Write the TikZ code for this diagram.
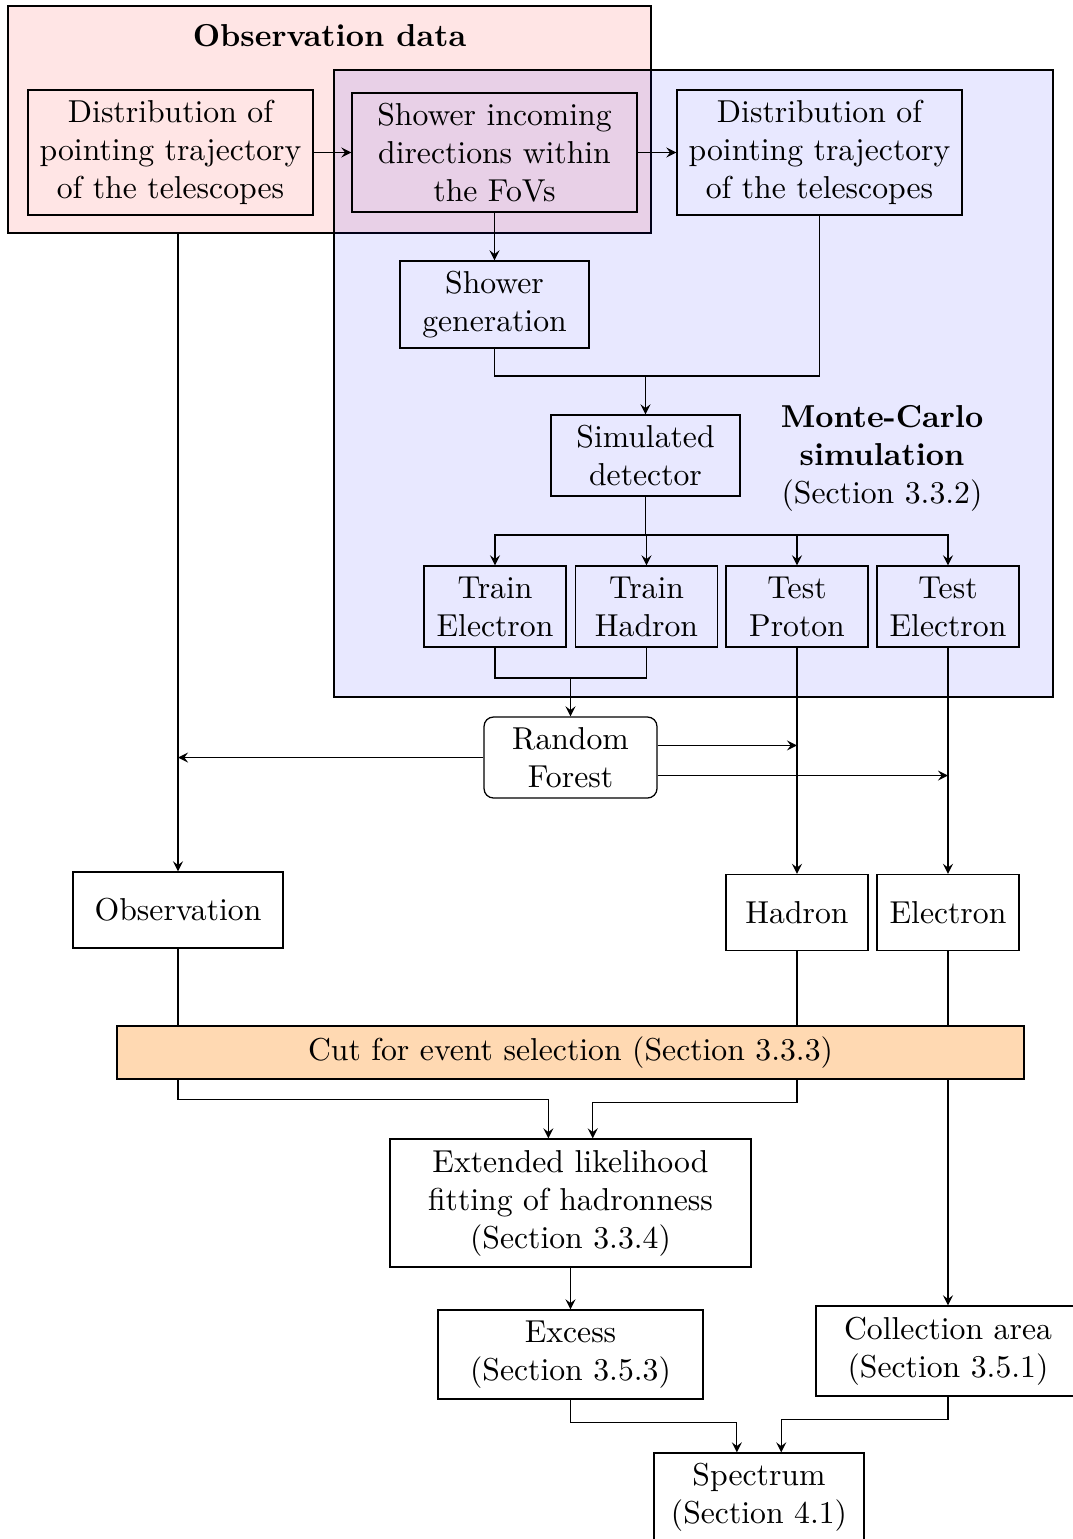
\documentclass[tikz,border=0pt]{standalone}
\usetikzlibrary{calc}

\begin{document}
\begin{tikzpicture}[>=stealth, x=0.3155pt, y=-0.3155pt]

% ------------------------------------------------------------------
% === UNITS AND STYLES =============================================
\def\u{0.3155pt}   % one grid step, all positions below are in steps

\tikzset{
  box/.style 2 args={draw, align=center, inner sep=0pt,
                     minimum width=#1*\u, minimum height=#2*\u},
  group/.style={draw, inner sep=0pt},
  title/.style={align=center, font=\bfseries},
}
% ==================================================================

\useasboundingbox (0,0) rectangle (1072,1539);

% --- the two shaded groups ----------------------------------------
\node[group, fill=red!10, minimum width=643*\u, minimum height=227*\u]
     (obsdata) at (329.5,119.5) {};
\node[title] (obstitle) at (329.5,36) {Observation data};

\node[group, fill=blue, fill opacity=0.09, draw opacity=1,
      minimum width=719*\u, minimum height=627*\u]
     (mcgroup) at (693.5,383.5) {};
\node[align=center] (mctitle) at (882,458)
     {\textbf{Monte-Carlo}\\\textbf{simulation}\\(Section 3.3.2)};

% === top row ======================================================
\node[box={285}{125}] (pointobs) at (170.5,152.5)
     {Distribution of\\pointing trajectory\\of the telescopes};
\node[box={285}{119}] (incoming) at (494.5,152.5)
     {Shower incoming\\directions within\\the FoVs};
\node[box={285}{125}] (pointmc)  at (819.5,152.5)
     {Distribution of\\pointing trajectory\\of the telescopes};

% === simulation chain =============================================
\node[box={189}{87}] (showergen) at (494.5,304.5) {Shower\\generation};
\node[box={189}{81}] (detector)  at (645.5,455.5) {Simulated\\detector};

\node[box={142}{81}] (trainel)  at (495,606.5)   {Train\\Electron};
\node[box={142}{81}] (trainhad) at (646.5,606.5) {Train\\Hadron};
\node[box={142}{81}] (testpro)  at (797,606.5)   {Test\\Proton};
\node[box={142}{81}] (testel)   at (948,606.5)   {Test\\Electron};

\node[box={173}{81}, rounded corners=3pt] (forest) at (570.5,757.5)
     {Random\\Forest};

% === classified samples ===========================================
\node[box={210}{76}] (observ) at (178,910)   {Observation};
\node[box={142}{76}] (hadron) at (797,912.5) {Hadron};
\node[box={142}{76}] (electr) at (948,912.5) {Electron};

\node[box={907}{53}, fill=orange!30] (cut) at (570.5,1052.5)
     {Cut for event selection (Section 3.3.3)};

% === analysis =====================================================
\node[box={361}{128}] (likeli) at (570.5,1203)
     {Extended likelihood\\fitting of hadronness\\(Section 3.3.4)};
\node[box={265}{89}] (excess) at (570.5,1354.5) {Excess\\(Section 3.5.3)};
\node[box={264}{90}] (collarea) at (948,1351)
     {Collection area\\(Section 3.5.1)};
\node[box={210}{89}] (spectrum) at (759,1497.5)
     {Spectrum\\(Section 4.1)};

% --- helper points ------------------------------------------------
\coordinate (joinrow) at (0,376);
\coordinate (splitrow) at (0,535);
\coordinate (trainrow) at (0,678);
\coordinate (join)  at (detector.north |- joinrow);
\coordinate (split) at (detector.south |- splitrow);
\coordinate (trainjoin) at (forest.north |- trainrow);
\coordinate (fup)   at ([yshift=3.8pt]forest.east);
\coordinate (fdown) at ([yshift=-5.7pt]forest.east);
\coordinate (likeL) at ([xshift=-7pt]likeli.north);
\coordinate (likeR) at ([xshift=7pt]likeli.north);
\coordinate (specL) at ([xshift=-7pt]spectrum.north);
\coordinate (specR) at ([xshift=7pt]spectrum.north);

% --- connectors: top part -----------------------------------------
\draw[->] (pointobs) -- (incoming);
\draw[->] (incoming) -- (pointmc);
\draw[->] (incoming) -- (showergen);
\draw (showergen.south) |- (join);
\draw (pointmc.south) |- (join);
\draw[->] (join) -- (detector.north);

\draw (detector.south) -- (split);
\foreach \n in {trainel,trainhad,testpro,testel}
  \draw[->] (split) -| (\n.north);

\draw (trainel.south) |- (trainjoin);
\draw (trainhad.south) |- (trainjoin);
\draw[->] (trainjoin) -- (forest.north);

% --- connectors: classification -----------------------------------
\draw[->] (obsdata.south -| observ.north) -- (observ.north);
\draw[->] (forest.west) -- (forest.west -| observ.north);
\draw[->] (fup) -- (fup -| testpro.south);
\draw[->] (fdown) -- (fdown -| testel.south);
\draw[->] (testpro) -- (hadron);
\draw[->] (testel) -- (electr);

\draw (observ.south) -- (observ.south |- cut.north);
\draw (hadron.south) -- (hadron.south |- cut.north);
\draw (electr.south) -- (electr.south |- cut.north);

% --- connectors: analysis -----------------------------------------
\draw[->] (cut.south -| observ.south) -- ++(0,20) -| (likeL);
\draw[->] (cut.south -| hadron.south) -- ++(0,23) -| (likeR);
\draw[->] (cut.south -| collarea.north) -- (collarea.north);
\draw[->] (likeli) -- (excess);
\draw[->] (excess.south) -- ++(0,23) -| (specL);
\draw[->] (collarea.south) -- ++(0,23) -| (specR);

\end{tikzpicture}
\end{document}
